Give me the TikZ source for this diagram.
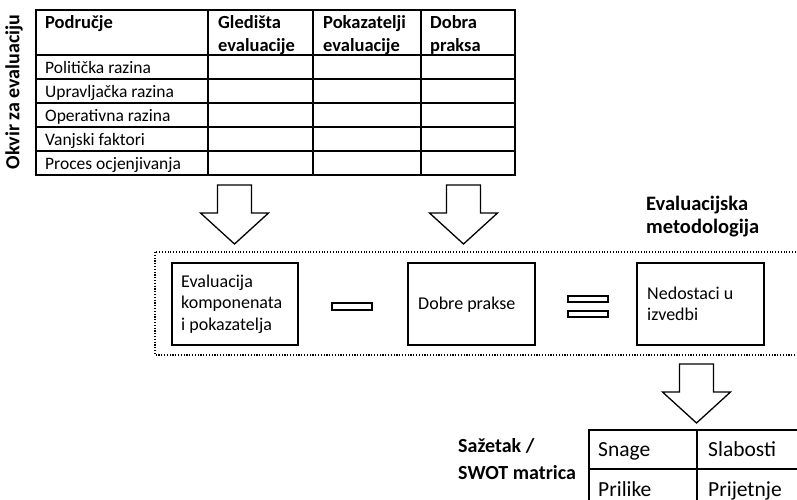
\documentclass[tikz,border=0pt]{standalone}
\usepackage{fontspec}
\setmainfont{Carlito}
\begin{document}
\begin{tikzpicture}[x=1pt,y=-1pt,
  gridline/.style={line width=1.2pt},
  txt/.style={anchor=base west, inner sep=0pt, font=\fontsize{17.5}{22}\selectfont},
  headtxt/.style={txt, font=\bfseries\fontsize{18.5}{23}\selectfont},
  label/.style={anchor=base west, inner sep=0pt, font=\bfseries\fontsize{20.5}{24}\selectfont},
  swottxt/.style={anchor=base west, inner sep=0pt, font=\fontsize{21.5}{26}\selectfont},
  stagebox/.style={draw, line width=1.9pt, inner sep=0pt},
  boxtxt/.style={anchor=west, inner sep=0pt, align=left, font=\fontsize{18}{21.5}\selectfont},
  bar/.style={draw, line width=1.1pt},
  dotframe/.style={line width=1.4pt, dash pattern=on 1.1pt off 1.7pt},
  arrowline/.style={line width=1.3pt, line join=miter},
  blockarrow/.pic={\draw[arrowline] (-17,0) -- (17,0) -- (17,28) -- (34,28) -- (0,59) -- (-34,28) -- (-17,28) -- cycle;}
]
\clip (0,0) rectangle (797,499);

% ---- evaluation framework table ----
\draw[gridline] (36,10) rectangle (515,175);
\foreach \yy in {55,79,103,127,151} \draw[gridline] (36,\yy) -- (515,\yy);
\foreach \xx in {208,313,421} \draw[gridline] (\xx,10) -- (\xx,175);

\node[headtxt] (h1) at (45,28) {Područje};
\node[headtxt] (h2a) at (218,28) {Gledišta};
\node[headtxt] (h2b) at (218,51) {evaluacije};
\node[headtxt] (h3a) at (323,28) {Pokazatelji};
\node[headtxt] (h3b) at (323,51) {evaluacije};
\node[headtxt] (h4a) at (430,28) {Dobra};
\node[headtxt] (h4b) at (430,51) {praksa};

\node[txt] (r1) at (45,73.5) {Politička razina};
\node[txt] (r2) at (45,97.5) {Upravljačka razina};
\node[txt] (r3) at (45,121.5) {Operativna razina};
\node[txt] (r4) at (45,145.5) {Vanjski faktori};
\node[txt] (r5) at (45,169.5) {Proces ocjenjivanja};

\node[rotate=90, inner sep=0pt, font=\bfseries\fontsize{20}{24}\selectfont] (frame) at (14,92) {Okvir za evaluaciju};

% ---- arrows into the methodology ----
\pic (a1) at (234.5,185) {blockarrow};
\pic (a2) at (463.5,185) {blockarrow};

% ---- evaluation methodology ----
\node[label] (m1) at (646,210) {Evaluacijska};
\node[label] (m2) at (646,233) {metodologija};

\draw[dotframe] (155,252) rectangle (840,355);

\node[stagebox, minimum width=126pt, minimum height=82pt] (b1) at (235,304) {};
\node[boxtxt] (b1t) at (181,304) {Evaluacija\\komponenata\\i pokazatelja};
\node[bar, minimum width=40pt, minimum height=7pt, inner sep=0pt] (minus) at (352,306.5) {};
\node[stagebox, minimum width=127pt, minimum height=82pt] (b2) at (471.5,304) {};
\node[boxtxt] (b2t) at (418,305) {Dobre prakse};
\node[bar, minimum width=40pt, minimum height=6pt, inner sep=0pt] (eq1) at (588,299) {};
\node[bar, minimum width=40pt, minimum height=6pt, inner sep=0pt] (eq2) at (588,314) {};
\node[stagebox, minimum width=127pt, minimum height=82pt] (b3) at (700.5,304) {};
\node[boxtxt] (b3t) at (647,304) {Nedostaci u\\izvedbi};

\pic (a3) at (696.5,364) {blockarrow};

% ---- summary / SWOT matrix ----
\node[label, font=\bfseries\fontsize{20}{24}\selectfont] (s1) at (458,452) {Sažetak /};
\node[label, font=\bfseries\fontsize{20}{24}\selectfont] (s2) at (458,479) {SWOT matrica};

\draw[gridline] (589,540) -- (589,430) -- (840,430);
\draw[gridline] (589,469) -- (840,469);
\draw[gridline] (697,430) -- (697,540);
\node[swottxt] (sw1) at (598,456) {Snage};
\node[swottxt] (sw2) at (708,456) {Slabosti};
\node[swottxt] (sw3) at (598,496) {Prilike};
\node[swottxt] (sw4) at (708,496) {Prijetnje};
\end{tikzpicture}
\end{document}
